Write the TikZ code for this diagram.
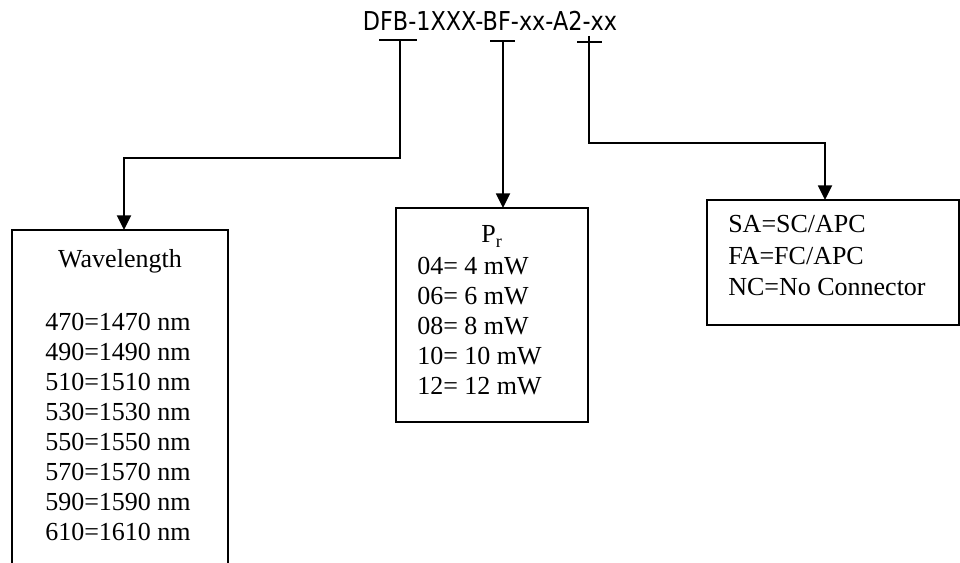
\documentclass[tikz,border=0pt]{standalone}
\usepackage{fontspec}
\setmainfont{Liberation Serif}
\newfontfamily\titlefamily{DejaVu Sans}
\usetikzlibrary{arrows.meta}
\begin{document}
\begin{tikzpicture}[x=0.75pt,y=-0.75pt,
  box/.style={draw, line width=1.6pt, inner sep=0pt, outer sep=0pt, anchor=north west},
  txt/.style={font=\fontsize{19.5}{22}\selectfont, inner sep=0pt, anchor=base west},
  ctxt/.style={font=\fontsize{19.5}{22}\selectfont, inner sep=0pt, anchor=base},
  conn/.style={line width=1.4pt},
  arr/.style={conn, -{Triangle[length=11pt,width=10.5pt]}},
  tickbar/.style={line width=1.2pt}]
\clip (0,0) rectangle (960,563);
\path[use as bounding box] (0,0) rectangle (960,563);

% title
\node[font=\titlefamily\fontsize{19.5}{22}\selectfont, inner sep=0pt, anchor=base, xscale=0.86] (title) at (490,31) {DFB-1XXX-BF-xx-A2-xx};

% ticks under the code
\coordinate (t1) at (400,40);
\coordinate (t2) at (503,41);
\coordinate (t3) at (589,42);
\draw[tickbar] (379,40) -- (417,40);
\draw[tickbar] (490,41) -- (515,41);
\draw[tickbar] (577,42) -- (602,42);
\draw[conn] (589,36) -- (t3);

% boxes
\node[box, minimum width=162pt, minimum height=300pt] (wl) at (12,230) {};
\node[box, minimum width=144pt, minimum height=160.5pt] (pr) at (396,208) {};
\node[box, minimum width=189pt, minimum height=93.75pt] (con) at (707,200) {};

% connectors
\draw[arr] (t1) -- ++(0,118) -| ([xshift=3pt]wl.north);
\draw[arr] (t2) -- (t2 |- pr.north);
\draw[arr] (t3) -- ++(0,101) -| ([xshift=-6pt]con.north);

% wavelength box text
\node[ctxt] (wlh) at (120,267) {Wavelength};
\node[txt] (w1) at (45,330) {470=1470 nm};
\node[txt] (w2) at (45,360) {490=1490 nm};
\node[txt] (w3) at (45,390) {510=1510 nm};
\node[txt] (w4) at (45,420) {530=1530 nm};
\node[txt] (w5) at (45,450) {550=1550 nm};
\node[txt] (w6) at (45,480) {570=1570 nm};
\node[txt] (w7) at (45,510) {590=1590 nm};
\node[txt] (w8) at (45,540) {610=1610 nm};

% power box text
\node[ctxt] (prh) at (492,243) {P\textsubscript{r}};
\node[txt] (p1) at (417,274) {04= 4 mW};
\node[txt] (p2) at (417,304) {06= 6 mW};
\node[txt] (p3) at (417,334) {08= 8 mW};
\node[txt] (p4) at (417,364) {10= 10 mW};
\node[txt] (p5) at (417,394) {12= 12 mW};

% connector box text
\node[txt] (c1) at (728,233) {SA=SC/APC};
\node[txt] (c2) at (728,264) {FA=FC/APC};
\node[txt] (c3) at (728,295) {NC=No Connector};
\end{tikzpicture}
\end{document}
